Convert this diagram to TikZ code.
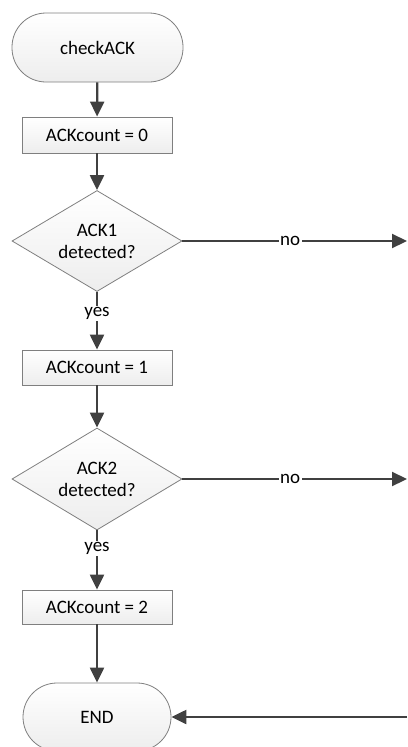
\documentclass[tikz,border=0pt]{standalone}
\usepackage{fontspec}
\setmainfont{Carlito}
\usetikzlibrary{shapes.geometric,arrows.meta}
\definecolor{linecol}{HTML}{404040}
\definecolor{edgecol}{HTML}{7F7F7F}
\tikzset{
  x=1pt, y=1pt,
  every node/.style={font=\fontsize{19}{22}\selectfont, text=black},
  shapebase/.style={draw=edgecol, line width=0.8pt, top color=white, bottom color=gray!14, inner sep=0pt},
  terminal/.style={shapebase, rectangle, rounded corners=34pt, minimum height=69pt},
  procbox/.style={shapebase, rectangle, minimum width=150pt, minimum height=35pt},
  decision/.style={shapebase, diamond, minimum width=170pt, minimum height=101pt, align=center, shape aspect=1.68},
  flow/.style={draw=linecol, line width=2.2pt, -{Triangle[length=15pt,width=14pt]}},
  branchlabel/.style={fill=white, inner sep=1.5pt, text=black}
}
\begin{document}
\begin{tikzpicture}
  \useasboundingbox (0,0) rectangle (407,-747);

  % flowchart nodes
  \node[terminal, minimum width=171pt] (start) at (97.5,-47.5) {checkACK};
  \node[procbox, minimum height=36pt] (set0) at (97,-135) {ACKcount = 0};
  \node[decision] (ack1) at (97,-241) {ACK1\\detected?};
  \node[procbox] (set1) at (97,-367.5) {ACKcount = 1};
  \node[decision, minimum height=102pt] (ack2) at (97,-479) {ACK2\\detected?};
  \node[procbox, minimum height=34pt] (set2) at (97,-607) {ACKcount = 2};
  \node[terminal, minimum width=148pt, minimum height=68pt] (finish) at (97,-717) {END};

  % free ends at the right margin
  \coordinate (out1) at (407,-241);
  \coordinate (out2) at (407,-479);
  \coordinate (back) at (407,-717);

  % main flow
  \draw[flow] (start) -- (set0);
  \draw[flow] (set0) -- (ack1);
  \draw[flow] (ack1) -- node[branchlabel, pos=0.37] {yes} (set1);
  \draw[flow] (set1) -- (ack2);
  \draw[flow] (ack2) -- node[branchlabel, pos=0.3] {yes} (set2);
  \draw[flow] (set2) -- (finish);

  % negative branches
  \draw[flow] (ack1.east) -- node[branchlabel, pos=0.48] {no} (out1);
  \draw[flow] (ack2.east) -- node[branchlabel, pos=0.48] {no} (out2);
  \draw[flow] (back) -- (finish.east);
\end{tikzpicture}
\end{document}
